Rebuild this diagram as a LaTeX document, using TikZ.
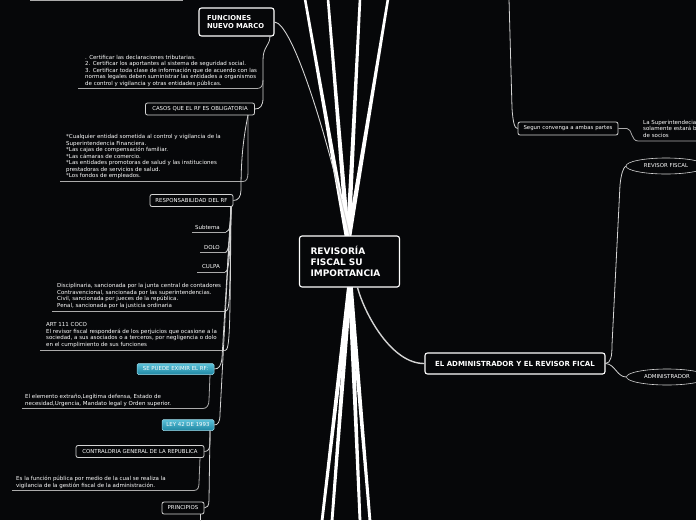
\documentclass[tikz,border=0pt]{standalone}
\usepackage{fontspec}
\setmainfont{DejaVu Sans}
\usetikzlibrary{calc,shapes.geometric}
\definecolor{bg}{HTML}{060709}
\definecolor{ln}{HTML}{D4D4D4}
\definecolor{ul}{HTML}{ABABAB}
\definecolor{tealtop}{HTML}{5CC2DA}
\definecolor{tealbot}{HTML}{1E86A2}
\newcommand{\taper}[4]{\fill[white] ($(#1)+(-#3,0)$) -- ($(#2)+(-#4,0)$) -- ($(#2)+(#4,0)$) -- ($(#1)+(#3,0)$) -- cycle;}
\tikzset{
 conn/.style={draw=ln, line width=0.8pt},
 uline/.style={draw=ul, line width=0.8pt},
 bigbox/.style={draw=white, line width=1.1pt, rounded corners=2.5pt, fill=bg, text=white, font=\fontsize{7}{8.4}\selectfont\bfseries, inner ysep=0pt},
 smallbox/.style={draw=ln, line width=0.8pt, rounded corners=2pt, fill=bg, text=white, font=\fontsize{5.4}{6.3}\selectfont, inner sep=0pt},
 tealbox/.style={draw=tealtop!60!white, line width=0.5pt, rounded corners=1.5pt, top color=tealtop, bottom color=tealbot, text=white, font=\fontsize{5.4}{6.3}\selectfont, inner sep=0pt},
 small/.style={text=white, font=\fontsize{5.5}{6.45}\selectfont, inner sep=0pt, align=left},
 ell/.style={ellipse, draw=ln, line width=0.6pt, fill=bg, text=white, font=\fontsize{5.4}{6.3}\selectfont, inner sep=0pt},
}
\begin{document}
\begin{tikzpicture}[x=1pt,y=-1pt]
\useasboundingbox (0,0) rectangle (696,520);
\fill[bg] (0,0) rectangle (696,520);

% ---------- central thick connectors ----------
\coordinate (ctop) at (348,242);
\coordinate (cbot) at (350,282);
\coordinate (t1) at (305,-1); \coordinate (t2) at (328,-1);
\coordinate (t3) at (360,-1); \coordinate (t4) at (388,-1);
\coordinate (b1) at (322,521); \coordinate (b2) at (332,521);
\coordinate (b3) at (360,521); \coordinate (b4) at (370,521);
\taper{ctop}{t1}{2.4}{1.3}
\taper{ctop}{t2}{2.4}{1.3}
\taper{ctop}{t3}{2.4}{1.3}
\taper{ctop}{t4}{2.4}{1.3}
\taper{cbot}{b1}{2.4}{1.4}
\taper{cbot}{b2}{2.4}{1.4}
\taper{cbot}{b3}{2.4}{1.4}
\taper{cbot}{b4}{2.4}{1.4}

% ---------- nodes ----------
\node[bigbox, minimum width=100pt, minimum height=51pt, text width=78pt, inner xsep=11pt, align=left,
      font=\fontsize{9}{11}\selectfont\bfseries] (root) at (349.5,261.5) {REVISORÍA\\FISCAL SU\\IMPORTANCIA};
\node[bigbox, minimum width=75pt, minimum height=28pt, text width=59pt, inner xsep=8pt, align=left,
      font=\fontsize{6.8}{8}\selectfont\bfseries] (fun) at (236.5,22) {FUNCIONES\\NUEVO MARCO};
\node[bigbox, minimum width=180pt, minimum height=21pt] (adm) at (515,363.5) {EL ADMINISTRADOR Y EL REVISOR FICAL};

\node[smallbox, minimum width=109pt, minimum height=12pt] (cas) at (200,109) {CASOS QUE EL RF ES OBLIGATORIA};
\node[smallbox, minimum width=83pt, minimum height=12pt] (rsp) at (191.5,200.5) {RESPONSABILIDAD DEL RF};
\node[tealbox, minimum width=77pt, minimum height=11pt] (exi) at (175.5,369) {SE PUEDE EXIMIR EL RF:};
\node[tealbox, minimum width=52pt, minimum height=11pt] (ley) at (188,425) {LEY 42 DE 1993};
\node[smallbox, minimum width=128pt, minimum height=12pt] (con) at (140,451.5) {CONTRALORIA GENERAL DE LA REPUBLICA};
\node[smallbox, minimum width=42pt, minimum height=12pt] (pri) at (183,508) {PRINCIPIOS};
\node[smallbox, minimum width=100pt, minimum height=13pt] (seg) at (568,128.5) {Segun convenga a ambas partes};

\node[ell, minimum width=80pt, minimum height=16pt] (rev) at (666,166) {REVISOR FISCAL};
\node[ell, minimum width=81pt, minimum height=16pt] (admi) at (667,377) {ADMINISTRADOR};

% text blocks
\node[small, anchor=north west] (tx1) at (85,55) {. Certificar las declaraciones tributarias.\\
2. Certificar los aportantes al sistema de seguridad social.\\
3. Certificar toda clase de información que de acuerdo con las\\
normas legales deben suministrar las entidades a organismos\\
de control y vigilancia y otras entidades públicas.};
\node[small, anchor=north west] (tx2) at (66,134.5) {*Cualquier entidad sometida al control y vigilancia de la\\
Superintendencia Financiera.\\
*Las cajas de compensación familiar.\\
*Las cámaras de comercio.\\
*Las entidades promotoras de salud y las instituciones\\
prestadoras de servicios de salud.\\
*Los fondos de empleados.};
\node[small, anchor=east] (sub) at (220,227) {Subtema};
\node[small, anchor=east] (dolo) at (220,247) {DOLO};
\node[small, anchor=east] (culpa) at (220,266) {CULPA};
\node[small, anchor=north west] (tx3) at (57,283.5) {Disciplinaria, sancionada por la junta central de contadores\\
Contravencional, sancionada por las superintendencias.\\
Civil, sancionada por jueces de la república.\\
Penal, sancionada por la justicia ordinaria};
\node[small, anchor=north west] (tx4) at (46,322.5) {ART 111 COCO\\
El revisor fiscal responderá de los perjuicios que ocasione a la\\
sociedad, a sus asociados o a terceros, por negligencia o dolo\\
en el cumplimiento de sus funciones};
\node[small, anchor=north west] (tx5) at (25,394) {El elemento extraño,Legítima defensa, Estado de\\
necesidad,Urgencia, Mandato legal y Orden superior.};
\node[small, anchor=north west] (tx6) at (16,476) {Es la función pública por medio de la cual se realiza la\\
vigilancia de la gestión fiscal de la administración.};
\node[small, anchor=north west] (tx7) at (643,120) {La Superintendecia\\
solamente estará b\\
de socios};

% ---------- thin connectors ----------
\coordinate (top0) at (30,0.8); \coordinate (top1) at (183,0.8);
\draw[uline] (top0) -- (top1);

\draw[conn, line width=0.9pt] (fun.east) .. controls (292,23) and (326,130) .. (root.north);
\draw[conn, line width=1.4pt] ($(root.south)+(8,0)$) .. controls (365,315) and (392,364) .. (adm.west);

% FUNCIONES subtree
\coordinate (f0) at (270,36);
\draw[conn] (f0) .. controls (270,46) and (263,46) .. (263,60) -- (263,98) .. controls (263,106) and (260,109) .. (cas.east);
\coordinate (u1a) at (78,88.5); \coordinate (u1b) at (257,88.5);
\draw[uline] (u1a) -- (u1b) .. controls (261,88.5) and (263,86) .. (263,80);

% CASOS subtree
\coordinate (c0) at (248,115);
\coordinate (u2a) at (60,181.5);
\draw[uline] (u2a) -- (243,181.5) .. controls (247,181.5) and (248,178) .. (248,172) -- (c0);
\draw[conn] (c0) .. controls (243,140) and (241,160) .. (241,190) .. controls (241,197) and (238,200.5) .. (rsp.east);

% RESPONSABILIDAD subtree
\coordinate (r0) at (231,206.5);
\coordinate (us) at (192,232); \coordinate (ud) at (200,252.5); \coordinate (uc) at (197,272);
\coordinate (u3) at (52,311); \coordinate (u4) at (40,350.5);
\draw[uline] (us) -- (226,232); \draw[conn] (r0) .. controls (231,222) and (230,232) .. (226,232);
\draw[uline] (ud) -- (225,252.5); \draw[conn] (r0) .. controls (230,240) and (229,252.5) .. (225,252.5);
\draw[uline] (uc) -- (225,272); \draw[conn] (r0) .. controls (230,258) and (229,272) .. (225,272);
\draw[uline] (u3) -- (226,311); \draw[conn] (r0) .. controls (230,290) and (230,311) .. (226,311);
\draw[uline] (u4) -- (225,350.5); \draw[conn] (r0) .. controls (230,330) and (230,350.5) .. (225,350.5);
\draw[conn] (r0) -- (222,358) .. controls (221,366) and (219,369) .. (exi.east);
\draw[conn] (r0) -- (220,414) .. controls (220,422) and (218,425) .. (ley.east);

% EXIMIR subtree
\coordinate (e0) at (210,374.5); \coordinate (u5) at (22,408.5);
\draw[uline] (u5) -- (203,408.5) .. controls (207,408.5) and (209,405) .. (209,400) -- (e0);

% LEY subtree
\coordinate (l0) at (210,430.5);
\draw[conn] (l0) -- (210,443) .. controls (210,449) and (208,451.5) .. (con.east);
\draw[conn] (l0) -- (209,500) .. controls (209,506) and (207,508) .. (pri.east);

% CONTRALORIA subtree
\coordinate (k0) at (200,457.5); \coordinate (u6) at (12,490.5);
\draw[uline] (u6) -- (194,490.5) .. controls (198,490.5) and (199,487) .. (199,483) -- (k0);

% PRINCIPIOS
\coordinate (p0) at (200,514); \coordinate (p1) at (200,521);
\draw[conn] (p0) -- (p1);

% right side
\coordinate (s0) at (509,-1);
\draw[conn] (s0) -- (512,108) .. controls (513,124) and (515,128.5) .. (seg.west);
\coordinate (u7) at (697,141);
\draw[uline] (seg.east) -- (627,128.5) .. controls (632,128.5) and (631,141) .. (638,141) -- (u7);
\draw[conn] (adm.east) .. controls (611,363) and (612,356) .. (612,345) -- (620,185) .. controls (621,175) and (623,168) .. (rev.west);
\draw[conn] (adm.east) .. controls (615,364) and (617,377) .. (admi.west);
\end{tikzpicture}
\end{document}
